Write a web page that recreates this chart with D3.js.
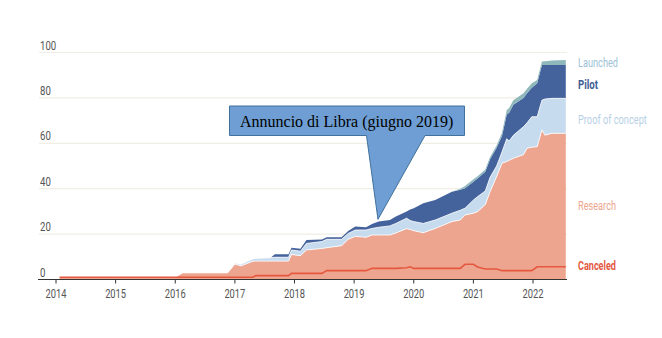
<!DOCTYPE html>
<html><head><meta charset="utf-8">
<script src="https://cdn.jsdelivr.net/npm/d3@7/dist/d3.min.js"></script>
<style>
html,body{margin:0;padding:0;background:#fff;}
svg{display:block;}
</style></head>
<body><svg id="c" width="662" height="338"></svg>
<script>
// ---- data (decimal year, values per stage) ----
const times = [2014.06,2016.0,2016.12,2016.88,2017.0,2017.1,2017.3,2017.35,2017.6,2017.67,2017.9,2017.95,2018.1,2018.2,2018.46,2018.54,2018.79,2018.9,2019.02,2019.2,2019.3,2019.41,2019.6,2019.7,2019.88,2019.94,2020.0,2020.16,2020.36,2020.64,2020.78,2020.86,2021.0,2021.07,2021.2,2021.28,2021.39,2021.48,2021.56,2021.6,2021.67,2021.84,2021.9,2021.98,2022.07,2022.15,2022.2,2022.32,2022.55];
const canceled = [1,1,1,1,1,1,1,1.7,1.7,1.7,1.7,2.7,2.7,2.7,2.7,3.9,3.9,3.9,3.9,3.9,4.9,4.9,4.9,4.9,5.2,5.6,4.9,4.9,4.9,4.9,4.9,6.7,6.7,5.5,4.6,4.6,4.6,3.9,3.9,3.9,3.9,3.9,3.9,3.9,5.6,5.6,5.6,5.6,5.6];
const research = [0,0,2,2,5.8,5,7,6.4,6.4,6.4,6.4,8.3,7.8,10.3,11,10.1,11,13.8,15.1,14.7,14.7,14.7,14.7,15.6,17.2,16.4,16.6,15.7,17.6,20.6,21.3,21.7,22.5,24.4,28.4,34.1,40.7,47.3,48.1,48.6,49.5,51.1,53.9,54.4,52.9,60.3,58,58.8,58.8];
const proof = [0,0,0,0,0.5,0.7,1,1.2,1.5,1.7,1.7,2,2,2.9,3,3.7,2.8,2.6,2.8,3.2,2.9,3.4,4,4.2,4.6,4,4,4.1,3.7,3.7,4.3,3,5.8,6.6,6,6.3,4.7,5,10,8.5,10.1,12.3,11.2,13.4,13.2,13.1,15.9,15.4,15.4];
const pilot = [0,0,0,0,0,0,0,0,0,1.3,1.3,1,1.1,1.5,0.9,0.9,0.9,1.1,1.5,1.2,2,2.5,2.6,3,3,4.8,5.9,8.9,8.8,9.5,9,8.8,8.1,8,8.5,8,8,7,10.7,12.5,13.5,12.7,13,12.8,14.7,15.5,15,14.7,14.7];
const launched = [0,0,0,0,0,0,0,0,0,0,0,0,0,0,0,0,0,0,0,0,0,0,0,0,0,0,0,0,0,0,0.5,1,1.1,1,1,1,1,1.5,2,2,2,2,2,1.9,1.5,1.5,1.7,2,2.2];
const seriesKeys = ["canceled","research","proof","pilot","launched"];
const seriesLabels = ["Canceled","Research","Proof of concept","Pilot","Launched"];
const yTicks = [0,20,40,60,80,100];
const xTicks = [2014,2015,2016,2017,2018,2019,2020,2021,2022];
const annotationText = "Annuncio di Libra (giugno 2019)";
const annotationPoint = [2019.4, 26.5];

// ---- build table ----
const src = {canceled, research, proof, pilot, launched};
const table = times.map((t,i)=>{const o={t}; seriesKeys.forEach(k=>o[k]=src[k][i]); return o;});

const svg = d3.select("#c");
const x = d3.scaleLinear().domain([2014,2022]).range([56,533]);
const y = d3.scaleLinear().domain([0,100]).range([279.5,52.5]);

const FONT = "Roboto, 'Open Sans', sans-serif";
const fills = {canceled:"#eea58f", research:"#eea58f", proof:"#c6dbee", pilot:"#44639d", launched:"#8fb8bd"};
const labelColors = {canceled:"#e2583f", research:"#eda58e", proof:"#b7d0e6", pilot:"#3e5c95", launched:"#9dc2d6"};
const labelY = {canceled:265, research:205, proof:119, pilot:84, launched:62};
const labelW = {canceled:38, research:38, proof:69, pilot:20, launched:40};

// helper: condensed text via horizontal scaling to a target width
function condensed(g, str, px, py, size, target, anchor, attrs){
  const grp = g.append("g");
  const t = grp.append("text").attr("x",0).attr("y",0)
    .attr("font-family",FONT).attr("font-size",size).text(str);
  Object.entries(attrs||{}).forEach(([k,v])=>t.attr(k,v));
  const w = t.node().getComputedTextLength();
  const s = target / w;
  const dx = anchor==="middle" ? -target/2 : 0;
  grp.attr("transform",`translate(${px+dx},${py}) scale(${s},1)`);
  return grp;
}

// gridlines
svg.append("g").selectAll("line").data(yTicks.filter(d=>d>0)).join("line")
  .attr("x1",39).attr("x2",567).attr("y1",d=>y(d)).attr("y2",d=>y(d))
  .attr("stroke","#efede4").attr("stroke-width",1.2);

// y labels
const yl = svg.append("g");
yTicks.forEach(d=>condensed(yl, String(d), 40, y(d)-3, 12, String(d).length*5.4, "start", {fill:"#555"}));

// stack
const stack = d3.stack().keys(seriesKeys);
const layers = stack(table);
const area = d3.area().x(d=>x(d.data.t)).y0(d=>y(d[0])).y1(d=>y(d[1]));
const topLine = d3.line().x(d=>x(d.data.t)).y(d=>y(d[1]));

svg.append("g").selectAll("path").data(layers).join("path")
  .attr("d",area).attr("fill",d=>fills[d.key]);

// white separators
svg.append("g").selectAll("path").data(layers.filter(l=>l.key==="research"||l.key==="proof")).join("path")
  .attr("d",topLine).attr("fill","none").attr("stroke","#fff").attr("stroke-width",0.8);

// canceled line
svg.append("path").datum(layers[0]).attr("d",topLine)
  .attr("fill","none").attr("stroke","#e5583f").attr("stroke-width",1.6);

// x axis
const xAxis = svg.append("g").attr("transform",`translate(0,${y(0)})`);
xAxis.append("line").attr("x1",38).attr("x2",567).attr("y1",0).attr("y2",0).attr("stroke","#333").attr("stroke-width",1.2);
xAxis.selectAll("line.t").data(xTicks).join("line").attr("class","t")
  .attr("x1",d=>x(d)).attr("x2",d=>x(d)).attr("y1",0).attr("y2",4).attr("stroke","#333");
xTicks.forEach(d=>condensed(xAxis, String(d), x(d), 18, 12, 21, "middle", {fill:"#555"}));

// series labels
const sl = svg.append("g");
seriesKeys.forEach((k,i)=>condensed(sl, seriesLabels[i], 578, labelY[k]+4.5, 13, labelW[k], "start",
  {fill:labelColors[k], "font-weight":(k==="pilot"||k==="canceled")?"bold":"normal"}));

// callout
const bx0=229.5, bx1=464.5, by0=106, by1=135.5;
const tipX = x(annotationPoint[0]), tipY = y(annotationPoint[1]);
const pl = 366.5, pr = 425;
const p = d3.path();
p.moveTo(bx0,by0); p.lineTo(bx1,by0); p.lineTo(bx1,by1); p.lineTo(pr,by1);
p.lineTo(tipX,tipY); p.lineTo(pl,by1); p.lineTo(bx0,by1); p.closePath();
svg.append("path").attr("d",p.toString()).attr("fill","#6e9ed3").attr("stroke","#41719c").attr("stroke-width",1);
svg.append("text").attr("x",240).attr("y",121.5).attr("dy","0.35em")
  .attr("font-family","'Liberation Serif','Times New Roman',serif")
  .attr("font-size",16).attr("fill","#000").text(annotationText);
</script></body></html>
